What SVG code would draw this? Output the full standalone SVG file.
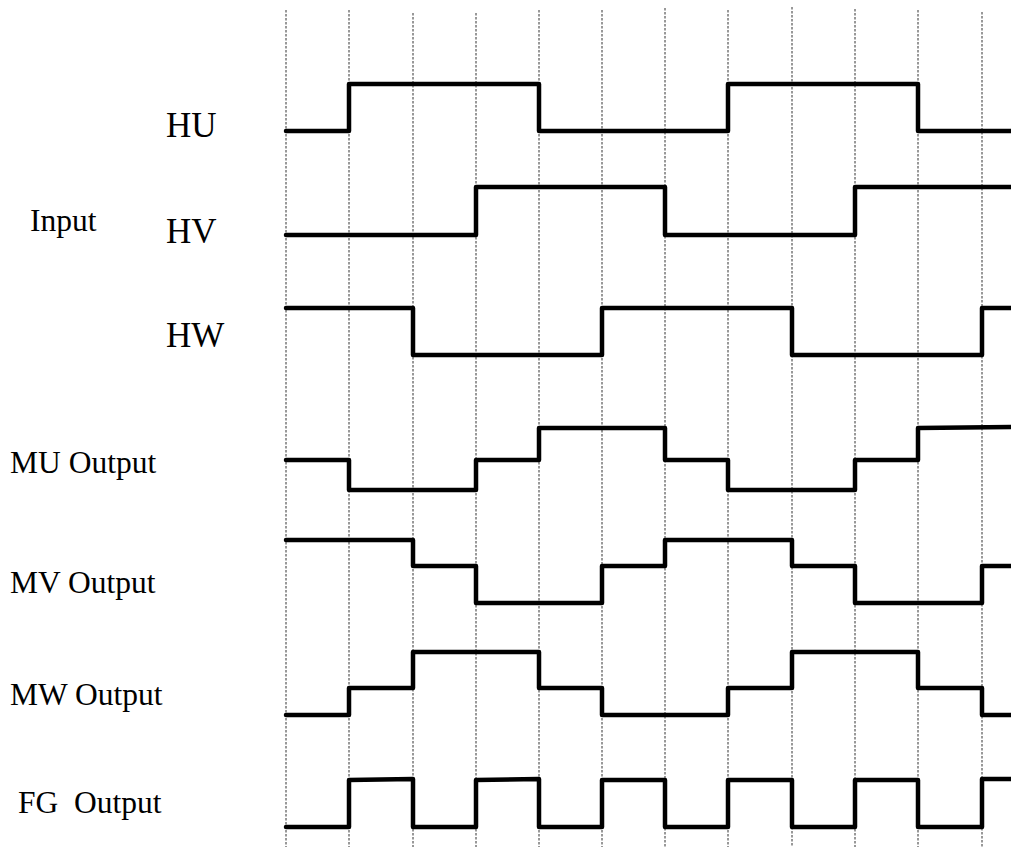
<svg xmlns="http://www.w3.org/2000/svg" width="1011" height="847" viewBox="0 0 1011 847">
<style>
.grid{stroke:#333;stroke-width:1;stroke-dasharray:2.5,1.5;fill:none}
.sig{stroke:#000;stroke-width:4.5;fill:none;stroke-linejoin:round;stroke-linecap:round}
.lbl{font-family:"Liberation Serif","Times New Roman",serif;fill:#000}
.big{font-size:35px}
.mid{font-size:31.5px}
</style>
<rect width="1011" height="847" fill="#fff"/>
<g id="grid">
<line class="grid" x1="286" y1="10" x2="286" y2="847"/>
<line class="grid" x1="349" y1="10" x2="349" y2="847"/>
<line class="grid" x1="413" y1="13" x2="413" y2="847"/>
<line class="grid" x1="476" y1="13" x2="476" y2="847"/>
<line class="grid" x1="539" y1="10" x2="539" y2="847"/>
<line class="grid" x1="602" y1="10" x2="602" y2="847"/>
<line class="grid" x1="665" y1="8" x2="665" y2="847"/>
<line class="grid" x1="728" y1="10" x2="728" y2="847"/>
<line class="grid" x1="792" y1="7" x2="792" y2="847"/>
<line class="grid" x1="855" y1="9" x2="855" y2="847"/>
<line class="grid" x1="918" y1="10" x2="918" y2="847"/>
<line class="grid" x1="982" y1="12" x2="982" y2="847"/>
</g>
<g id="labels">
<text class="lbl mid" x="30" y="231">Input</text>
<text class="lbl big" x="166" y="137">HU</text>
<text class="lbl big" x="166" y="243">HV</text>
<text class="lbl big" x="166" y="347">HW</text>
<text class="lbl mid" x="10" y="473">MU Output</text>
<text class="lbl mid" x="10" y="593">MV Output</text>
<text class="lbl mid" x="10" y="705">MW Output</text>
<text class="lbl mid" x="18" y="813" xml:space="preserve">FG  Output</text>
</g>
<g id="HU"><path class="sig" d="M286,131 H349 V84 H539 V131 H728 V84 H918 V131 H1013"/></g>
<g id="HV"><path class="sig" d="M286,235 H476 V187 H665 V235 H855 V187 H1013"/></g>
<g id="HW"><path class="sig" d="M286,308 H413 V355 H602 V308 H792 V355 H982 V308 H1013"/></g>
<g id="MU"><path class="sig" d="M286,460 H349 V490 H476 V460 H539 V428 H665 V460 H728 V490 H855 V460 H918 V428 L1013,427"/></g>
<g id="MV"><path class="sig" d="M286,540 H413 V566 H476 V603 H602 V566 H665 V540 H792 V566 H855 V603 H982 V566 H1013"/></g>
<g id="MW"><path class="sig" d="M286,715 H349 V688 H413 V652 H539 V688 H602 V715 H728 V688 H792 V652 H918 V688 H982 V715 H1013"/></g>
<g id="FG"><path class="sig" d="M286,827 H349 V780 L413,779 V827 H476 V780 L539,779 V827 H602 V780 H665 V827 H728 V780 H792 V827 H855 V780 H918 V827 H982 V779 H1013"/></g>
</svg>
